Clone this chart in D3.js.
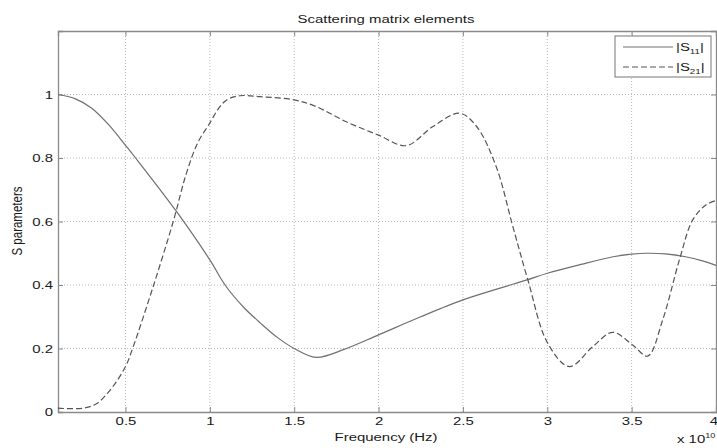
<!DOCTYPE html>
<html>
<head>
<meta charset="utf-8">
<script src="https://cdn.jsdelivr.net/npm/d3@7"></script>
<style>
  body { margin: 0; background: #fff; }
  text { font-family: "Liberation Sans", Arial, sans-serif; }
</style>
</head>
<body>
<div id="chart"></div>
<script>
// data (frequency in units of 1e10 Hz)
const s11Freq = [0.1, 0.2, 0.3, 0.4, 0.5, 0.56, 0.803, 1.0, 1.09, 1.2, 1.3, 1.4, 1.5, 1.63, 1.8, 2.0, 2.25, 2.5, 2.72, 2.88, 3.0, 3.2, 3.39, 3.5, 3.59, 3.7, 3.82, 3.92, 4.0];
const s11Vals = [1.0, 0.987, 0.957, 0.905, 0.84, 0.8, 0.631, 0.479, 0.4, 0.33, 0.28, 0.235, 0.2, 0.172, 0.198, 0.243, 0.3, 0.353, 0.39, 0.416, 0.437, 0.465, 0.489, 0.497, 0.5, 0.498, 0.489, 0.476, 0.462];
const s21Freq = [0.1, 0.25, 0.33, 0.418, 0.5, 0.546, 0.664, 0.783, 0.86, 0.93, 1.0, 1.05, 1.1, 1.177, 1.296, 1.5, 1.63, 1.809, 2.0, 2.164, 2.322, 2.48, 2.58, 2.697, 2.796, 2.885, 3.003, 3.131, 3.27, 3.388, 3.506, 3.595, 3.684, 3.783, 3.862, 3.94, 4.0];
const s21Vals = [0.012, 0.012, 0.027, 0.075, 0.143, 0.206, 0.395, 0.6, 0.75, 0.85, 0.91, 0.955, 0.983, 0.996, 0.993, 0.983, 0.962, 0.914, 0.872, 0.839, 0.899, 0.941, 0.9, 0.773, 0.584, 0.416, 0.216, 0.143, 0.206, 0.251, 0.211, 0.176, 0.29, 0.479, 0.605, 0.652, 0.666];
const xTicks = [0.5, 1, 1.5, 2, 2.5, 3, 3.5, 4];
const yTicks = [0, 0.2, 0.4, 0.6, 0.8, 1];

const width = 717, height = 448;
const margin = { top: 31, right: 1, bottom: 36, left: 58 };
const fontSize = "11.5px";
const stretch = 1.3; // text in the picture is drawn wide

const svg = d3.select("#chart").append("svg")
  .attr("width", width).attr("height", height);

const x = d3.scaleLinear().domain([0.1, 4]).range([margin.left, width - margin.right]);
const y = d3.scaleLinear().domain([0, 1.2]).range([height - margin.bottom, margin.top]);

// grid
const grid = svg.append("g");
grid.selectAll(".gx").data(xTicks.filter(d => d < 4)).join("line")
  .attr("x1", d => x(d)).attr("x2", d => x(d))
  .attr("y1", y(0)).attr("y2", y(1.2))
  .attr("stroke", "#b8b8b8").attr("stroke-dasharray", "1,2");
grid.selectAll(".gy").data(yTicks.filter(d => d > 0)).join("line")
  .attr("x1", x(0.1)).attr("x2", x(4))
  .attr("y1", d => y(d)).attr("y2", d => y(d))
  .attr("stroke", "#b8b8b8").attr("stroke-dasharray", "1,2");

// axes
const xAxis = svg.append("g")
  .attr("transform", `translate(0,${y(0)})`)
  .call(d3.axisBottom(x).tickValues(xTicks).tickSize(-5).tickPadding(5).tickFormat(d3.format("")));
const yAxis = svg.append("g")
  .attr("transform", `translate(${x(0.1)},0)`)
  .call(d3.axisLeft(y).tickValues(yTicks).tickSize(-5).tickFormat(d3.format("")));
const xTop = svg.append("g")
  .attr("transform", `translate(0,${y(1.2)})`)
  .call(d3.axisTop(x).tickValues(xTicks).tickSize(-5).tickFormat(""));
const yRight = svg.append("g")
  .attr("transform", `translate(${x(4)},0)`)
  .call(d3.axisRight(y).tickValues(yTicks).tickSize(-5).tickFormat(""));

[xAxis, yAxis, xTop, yRight].forEach(g => {
  g.select(".domain").attr("stroke", "#8a8a8a").attr("stroke-width", 1.3);
  g.selectAll(".tick line").attr("stroke", "#8a8a8a");
  g.selectAll(".tick text").attr("fill", "#1a1a1a").style("font-size", fontSize)
    .attr("transform", `scale(${stretch},1)`);
});
yAxis.selectAll(".tick text").attr("x", -5 / stretch);
xAxis.selectAll(".tick text").filter(d => d === 4).attr("x", -2);

// lines
const line = d3.line().x(d => x(d[0])).y(d => y(d[1])).curve(d3.curveCatmullRom.alpha(0.5));

svg.append("path")
  .datum(d3.zip(s11Freq, s11Vals))
  .attr("d", line)
  .attr("fill", "none").attr("stroke", "#707070").attr("stroke-width", 1.2);

svg.append("path")
  .datum(d3.zip(s21Freq, s21Vals))
  .attr("d", line)
  .attr("fill", "none").attr("stroke", "#555").attr("stroke-width", 1.2)
  .attr("stroke-dasharray", "6,3");

// title and labels
function label(px, py, txt, anchor) {
  return svg.append("text")
    .attr("transform", `translate(${px},${py}) scale(${stretch},1)`)
    .attr("text-anchor", anchor || "middle")
    .attr("fill", "#1a1a1a").style("font-size", fontSize)
    .text(txt);
}
label(386, 23, "Scattering matrix elements");
label(386, 441, "Frequency (Hz)");

svg.append("text")
  .attr("transform", `translate(22,221) scale(${stretch},1) rotate(-90)`)
  .attr("text-anchor", "middle")
  .attr("fill", "#1a1a1a").style("font-size", fontSize)
  .text("S parameters");

const expo = label(677, 443, "", "start");
expo.append("tspan").text("x 10");
expo.append("tspan").attr("dy", -5).style("font-size", "7px").text("10");

// legend
const legend = svg.append("g");
legend.append("rect")
  .attr("x", 615).attr("y", 36).attr("width", 96).attr("height", 41)
  .attr("fill", "#fff").attr("stroke", "#777");
const legendItems = [
  { sub: "11", dash: null, color: "#707070" },
  { sub: "21", dash: "6,3", color: "#555" }
];
legendItems.forEach((it, i) => {
  const ly = 47 + i * 20;
  legend.append("line")
    .attr("x1", 623).attr("x2", 673).attr("y1", ly).attr("y2", ly)
    .attr("stroke", it.color).attr("stroke-width", 1.2)
    .attr("stroke-dasharray", it.dash);
  const t = legend.append("text")
    .attr("transform", `translate(676,${ly + 4}) scale(${stretch},1)`)
    .attr("fill", "#1a1a1a").style("font-size", fontSize);
  t.append("tspan").text("|S");
  t.append("tspan").attr("dy", 3).style("font-size", "7.5px").text(it.sub);
  t.append("tspan").attr("dy", -3).text("|");
});
</script>
</body>
</html>
